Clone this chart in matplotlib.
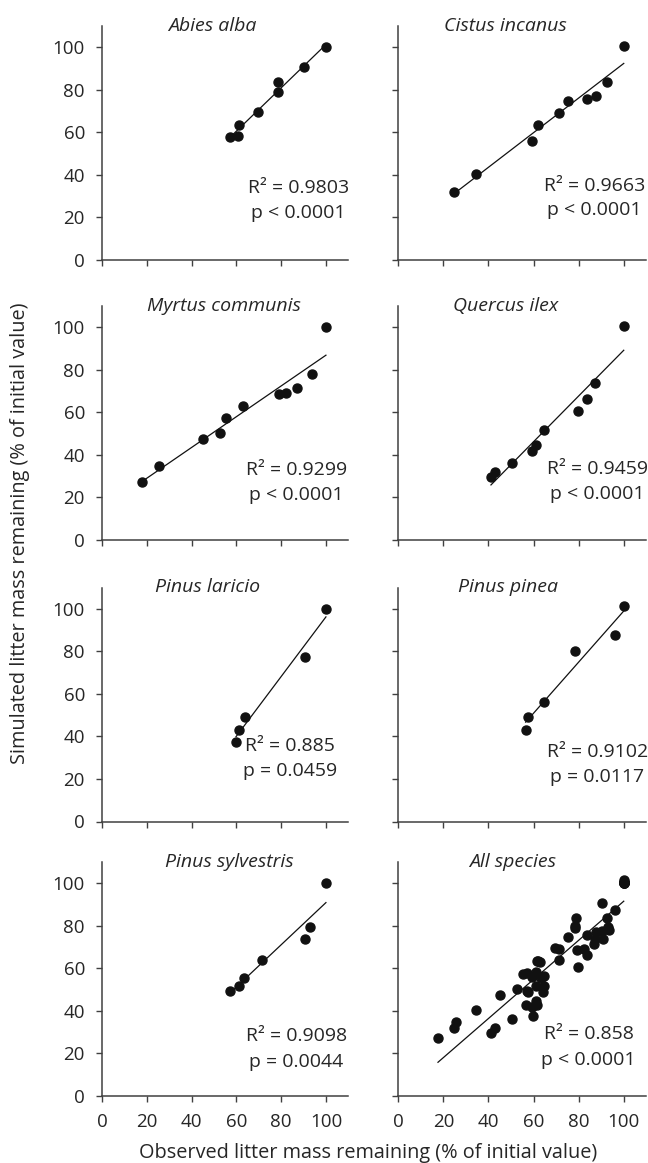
import numpy as np
import matplotlib
matplotlib.use("Agg")
import matplotlib.pyplot as plt

plt.rcParams['font.family'] = ['Open Sans', 'DejaVu Sans']

# ---------------- data ----------------
species = ["Abies alba", "Cistus incanus", "Myrtus communis", "Quercus ilex",
           "Pinus laricio", "Pinus pinea", "Pinus sylvestris", "All species"]

abies_obs = [56.9, 60.9, 61.3, 69.6, 78.4, 78.7, 90.3, 100.0]
abies_sim = [57.8, 58.3, 63.3, 69.6, 79.2, 83.9, 90.9, 100.0]

cistus_obs = [24.8, 34.4, 59.4, 61.9, 71.3, 75.2, 83.5, 87.9, 92.6, 100.0]
cistus_sim = [31.8, 40.3, 56.1, 63.6, 69.1, 74.7, 75.8, 77.1, 83.7, 100.5]

myrtus_obs = [17.6, 25.4, 45.1, 52.8, 55.5, 62.8, 79.1, 82.2, 87.0, 93.6, 100.0]
myrtus_sim = [27.1, 35.0, 47.7, 50.2, 57.2, 63.2, 68.7, 69.3, 71.3, 77.9, 100.0]

quercus_obs = [41.1, 43.0, 50.4, 59.3, 61.1, 64.7, 79.5, 83.9, 87.3, 100.0]
quercus_sim = [29.6, 32.2, 36.2, 42.0, 44.6, 51.7, 60.7, 66.3, 73.8, 100.5]

laricio_obs = [59.8, 61.3, 64.0, 90.5, 100.0]
laricio_sim = [37.4, 42.9, 49.0, 77.4, 100.0]

pinea_obs = [56.5, 57.5, 64.7, 78.4, 96.0, 100.0]
pinea_sim = [43.0, 49.0, 56.3, 80.0, 87.5, 101.5]

sylvestris_obs = [57.1, 61.0, 63.2, 71.3, 90.6, 92.9, 100.0]
sylvestris_sim = [49.4, 51.9, 55.4, 64.0, 73.9, 79.5, 100.0]

r2_labels = ["0.9803", "0.9663", "0.9299", "0.9459", "0.885", "0.9102", "0.9098", "0.858"]
p_labels = ["p < 0.0001", "p < 0.0001", "p < 0.0001", "p < 0.0001",
            "p = 0.0459", "p = 0.0117", "p = 0.0044", "p < 0.0001"]

ticks = [0, 20, 40, 60, 80, 100]

obs_sets = [abies_obs, cistus_obs, myrtus_obs, quercus_obs,
            laricio_obs, pinea_obs, sylvestris_obs]
sim_sets = [abies_sim, cistus_sim, myrtus_sim, quercus_sim,
            laricio_sim, pinea_sim, sylvestris_sim]
obs_sets.append(sum(obs_sets, []))
sim_sets.append(sum(sim_sets, []))

# ---------------- layout ----------------
W, H = 648, 1163
fig = plt.figure(figsize=(W / 100, H / 100), dpi=100)

col_left = [102.3, 398.3]
col_width = [246.0, 248.0]
row_bottom = [260, 540, 821.5, 1096]
ax_h = 234.0

title_x = [49, 47.3, 54.5, 47.7, 47, 48.7, 57, 50.5]
ann_pos = [(87.7, 33.8, 22.0), (87.0, 34.9, 23.3), (86.8, 32.7, 21.0), (88.3, 33.5, 21.8),
           (84.0, 35.4, 23.6), (88.3, 32.7, 21.0), (86.8, 28.2, 15.9), (84.4, 29.0, 16.8)]

spine_col = '#404040'
text_col = '#262626'
fs_tick = 13.5
fs_text = 14

for i in range(8):
    r, c = divmod(i, 2)
    ax = fig.add_axes([col_left[c] / W, (H - row_bottom[r]) / H,
                       col_width[c] / W, ax_h / H])
    x = np.array(obs_sets[i])
    y = np.array(sim_sets[i])
    ax.plot(x, y, 'o', color='#111111', markersize=6.5, zorder=3)
    k, b = np.polyfit(x, y, 1)
    xl = np.array([x.min(), x.max()])
    ax.plot(xl, k * xl + b, '-', color='#111111', lw=0.9, zorder=2)

    ax.set_xlim(0, 110)
    ax.set_ylim(0, 110)
    ax.set_xticks(ticks)
    ax.set_yticks(ticks)
    for s in ['top', 'right']:
        ax.spines[s].set_visible(False)
    for s in ['left', 'bottom']:
        ax.spines[s].set_color(spine_col)
        ax.spines[s].set_linewidth(1.1)
    ax.tick_params(axis='both', direction='out', length=4.5, width=1.0,
                   color=spine_col, labelsize=fs_tick, labelcolor=text_col)
    ax.tick_params(axis='y', pad=8)
    ax.tick_params(axis='x', pad=8)
    if c == 1:
        ax.set_yticklabels([])
    if r < 3:
        ax.set_xticklabels([])

    ax.text(title_x[i], 110, species[i], style='italic', fontsize=fs_text,
            color=text_col, ha='center', va='center')
    ax_, ry, py = ann_pos[i]
    ax.text(ax_, ry, "R\u00b2 = " + r2_labels[i], fontsize=fs_text,
            color=text_col, ha='center', va='center')
    ax.text(ax_, py, p_labels[i], fontsize=fs_text,
            color=text_col, ha='center', va='center')

fig.text(368.5 / W, 1 - 1153 / H, "Observed litter mass remaining (% of initial value)",
         fontsize=fs_text + 0.3, color=text_col, ha='center', va='center')
fig.text(20 / W, 1 - 533 / H, "Simulated litter mass remaining (% of initial value)",
         fontsize=fs_text + 0.3, color=text_col, ha='center', va='center', rotation=90)

fig.savefig("out.png", dpi=100)
